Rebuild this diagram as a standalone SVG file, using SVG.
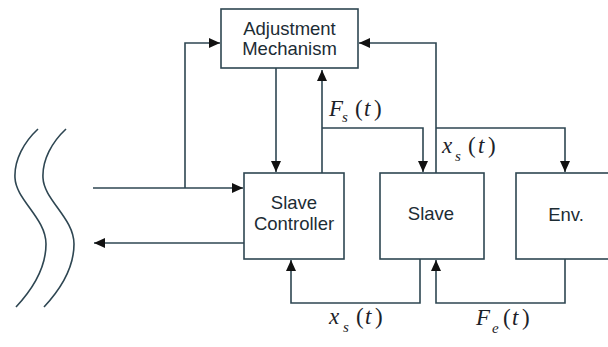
<svg xmlns="http://www.w3.org/2000/svg" width="608" height="347" viewBox="0 0 608 347">
<defs>
<style>
.box{fill:#fff;stroke:#2e4652;stroke-width:1.6}
.ln{fill:none;stroke:#2e4652;stroke-width:1.6}
.lbl{font-family:"Liberation Sans",Arial,sans-serif;font-size:18.5px;fill:#1c2c34;text-anchor:middle}
.m{font-family:"Liberation Serif","Times New Roman",serif;font-size:23px;fill:#1c2228}
.i{font-style:italic}
.sub{font-family:"Liberation Serif","Times New Roman",serif;font-size:15px;font-style:italic;fill:#1c2228}
</style>
<marker id="ah" markerUnits="userSpaceOnUse" markerWidth="12" markerHeight="10" refX="11" refY="5" orient="auto">
<path d="M0,0 L11,5 L0,10 Z" fill="#111"/>
</marker>
</defs>
<rect width="608" height="347" fill="#fff"/>

<g id="waves">
<path class="ln" d="M38,129 C24,142 14,160 15,178 C16,200 46,218 46,244 C46,270 30,292 16,307"/>
<path class="ln" d="M66,129 C52,142 42,160 43,178 C44,200 74,218 74,244 C74,270 58,292 44,307"/>
</g>

<g id="adjustment">
<rect class="box" x="221" y="9" width="137" height="59"/>
<text class="lbl" x="289.5" y="34.5">Adjustment</text>
<text class="lbl" x="289.5" y="54.5">Mechanism</text>
</g>
<g id="slave-controller">
<rect class="box" x="244" y="173" width="100" height="86"/>
<text class="lbl" x="294" y="209">Slave</text>
<text class="lbl" x="294" y="230">Controller</text>
</g>
<g id="slave">
<rect class="box" x="380" y="173" width="104" height="86"/>
<text class="lbl" x="431" y="220">Slave</text>
</g>
<g id="env">
<rect class="box" x="516" y="173" width="104" height="86"/>
<text class="lbl" x="566" y="220.5">Env.</text>
</g>

<g id="connectors">
<path class="ln" d="M93,188 H243" marker-end="url(#ah)"/>
<path class="ln" d="M185,188 V43 H220" marker-end="url(#ah)"/>
<path class="ln" d="M244,243 H94" marker-end="url(#ah)"/>
<path class="ln" d="M276,68 V172" marker-end="url(#ah)"/>
<path class="ln" d="M322,173 V70" marker-end="url(#ah)"/>
<path class="ln" d="M322,128 H423 V172" marker-end="url(#ah)"/>
<path class="ln" d="M436,173 V43 H359" marker-end="url(#ah)"/>
<path class="ln" d="M436,128 H565 V172" marker-end="url(#ah)"/>
<path class="ln" d="M420,259 V303 H291 V260" marker-end="url(#ah)"/>
<path class="ln" d="M565,259 V303 H436 V260" marker-end="url(#ah)"/>
</g>

<g id="labels">
<text class="m" y="116"><tspan class="i" x="329">F</tspan><tspan class="sub" x="342" y="122">s</tspan><tspan x="355" y="116">(</tspan><tspan class="i" x="364">t</tspan><tspan x="374">)</tspan></text>
<text class="m" y="153"><tspan class="i" x="442">x</tspan><tspan class="sub" x="455" y="161">s</tspan><tspan x="468" y="153">(</tspan><tspan class="i" x="478">t</tspan><tspan x="488">)</tspan></text>
<text class="m" y="324"><tspan class="i" x="329">x</tspan><tspan class="sub" x="343" y="332">s</tspan><tspan x="356" y="324">(</tspan><tspan class="i" x="365">t</tspan><tspan x="375">)</tspan></text>
<text class="m" y="325"><tspan class="i" x="476">F</tspan><tspan class="sub" x="492" y="333">e</tspan><tspan x="503" y="325">(</tspan><tspan class="i" x="512">t</tspan><tspan x="522">)</tspan></text>
</g>
</svg>
